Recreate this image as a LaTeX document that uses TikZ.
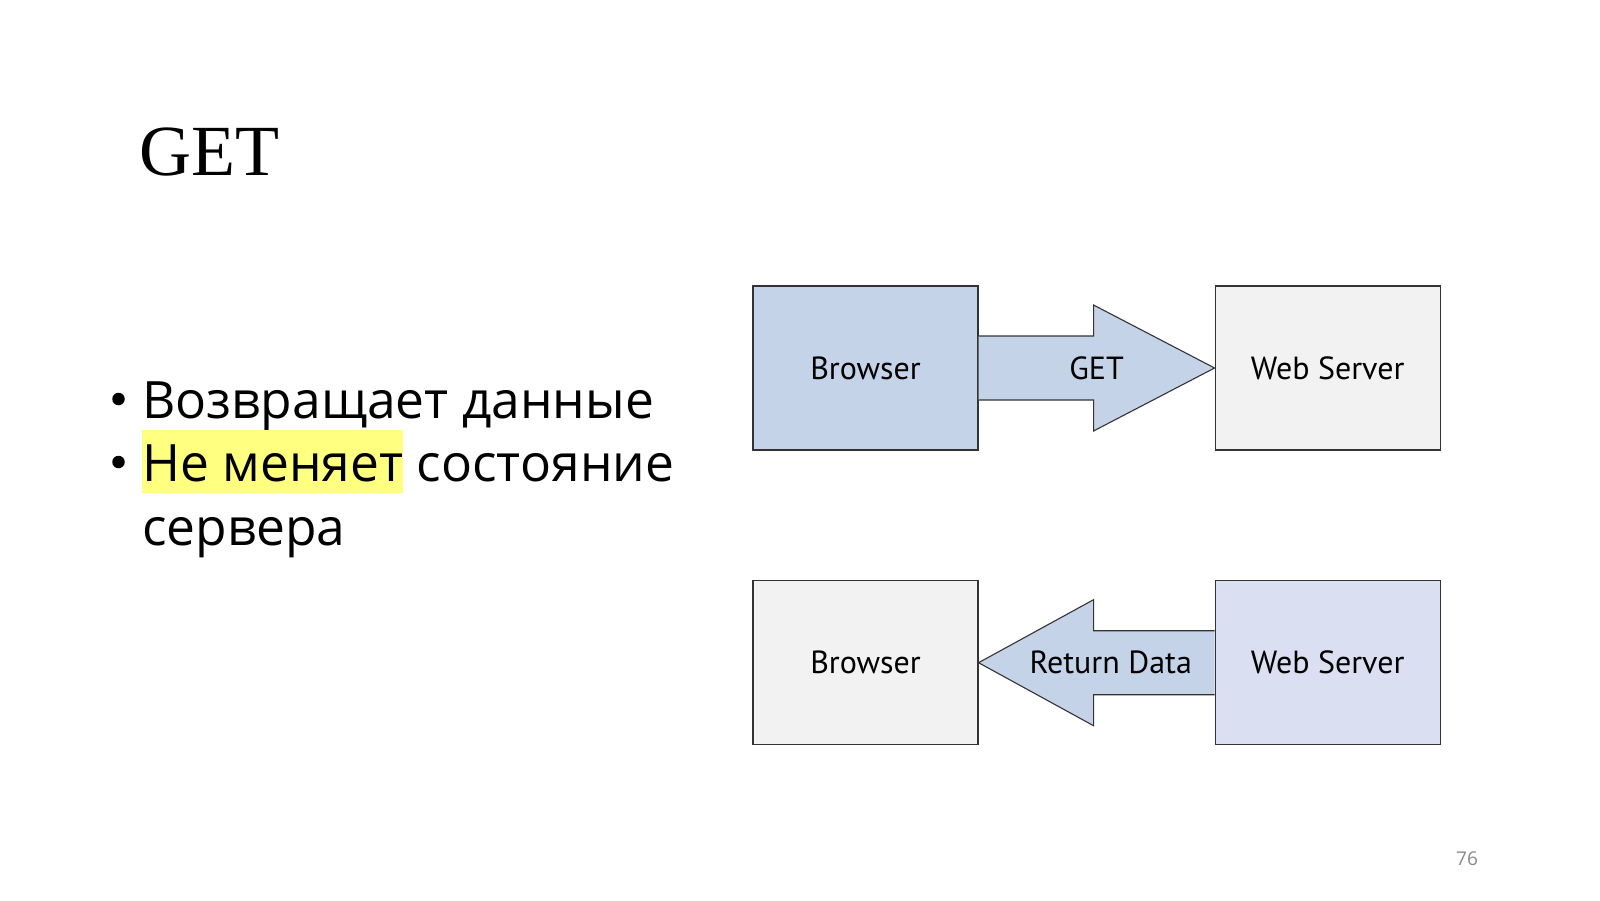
\documentclass[tikz,border=0pt]{standalone}
\usepackage{fontspec}
\setmainfont{Open Sans}
\newfontfamily\titlefont{Liberation Serif}
\newfontfamily\labelfont{PT Sans}
\usetikzlibrary{calc,positioning}
\definecolor{boxBlue}{HTML}{C5D3E9}
\definecolor{boxPale}{HTML}{DAE0F2}
\definecolor{boxGray}{HTML}{F2F2F2}
\definecolor{edgeGray}{HTML}{333333}
\definecolor{markYellow}{HTML}{FFFF80}
\definecolor{pageGray}{HTML}{8A8A8A}

\begin{document}
\begin{tikzpicture}[x=1pt, y=-1pt,
  hostbox/.style={rectangle, draw=edgeGray, line width=1.1pt, minimum width=225pt, minimum height=164pt, inner sep=0pt, font=\labelfont\fontsize{32}{38}\selectfont},
  blockarrow/.style={fill=boxBlue, draw=edgeGray, line width=1.1pt, line join=miter},
  arrowtext/.style={inner sep=0pt, font=\labelfont\fontsize{32}{38}\selectfont},
  bodytext/.style={anchor=base west, inner sep=0pt, font=\fontsize{51.5}{62}\selectfont},
  dot/.style={circle, fill=black, minimum size=12.5pt, inner sep=0pt},
]
\useasboundingbox (0,0) rectangle (1600,900);

\node[anchor=base west, inner sep=0pt, font=\titlefont\fontsize{72}{80}\selectfont] (heading) at (139,175) {GET};

\node[dot] (dotA) at (118.5,399) {};
\node[bodytext] (pointA) at (142,418) {Возвращает данные};
\node[dot] (dotB) at (118.5,462) {};
\node[bodytext] (pointB) at (142,481) {{\setlength\fboxsep{0pt}\colorbox{markYellow}{\rule[-12pt]{0pt}{63pt}Не меняет}} состояние};
\node[bodytext] (pointC) at (142,545) {сервера};

\node[hostbox, fill=boxBlue] (browserA) at (865.5,368) {Browser};
\node[hostbox, fill=boxGray, right=236pt of browserA] (serverA) {Web Server};
\node[hostbox, fill=boxGray, below=129.6pt of browserA] (browserB) {Browser};
\node[hostbox, fill=boxPale, right=236pt of browserB] (serverB) {Web Server};

\coordinate (headA) at ($(browserA.east)+(115,0)$);
\draw[blockarrow] ($(browserA.east)+(0,-32)$) -- ($(headA)+(0,-32)$) -- ($(headA)+(0,-63)$) -- (serverA.west)
  -- ($(headA)+(0,63)$) -- ($(headA)+(0,32)$) -- ($(browserA.east)+(0,32)$);
\path (browserA.east) -- (serverA.west) node[midway, arrowtext] (getlabel) {GET};

\coordinate (headB) at ($(serverB.west)+(-121,0)$);
\draw[blockarrow] ($(serverB.west)+(0,-32)$) -- ($(headB)+(0,-32)$) -- ($(headB)+(0,-63)$) -- (browserB.east)
  -- ($(headB)+(0,63)$) -- ($(headB)+(0,32)$) -- ($(serverB.west)+(0,32)$);
\path (browserB.east) -- (serverB.west) node[pos=0.56, arrowtext] (datalabel) {Return Data};

\node[font=\fontsize{19}{22}\selectfont, text=pageGray] (pagenum) at (1467,859) {76};
\end{tikzpicture}
\end{document}
